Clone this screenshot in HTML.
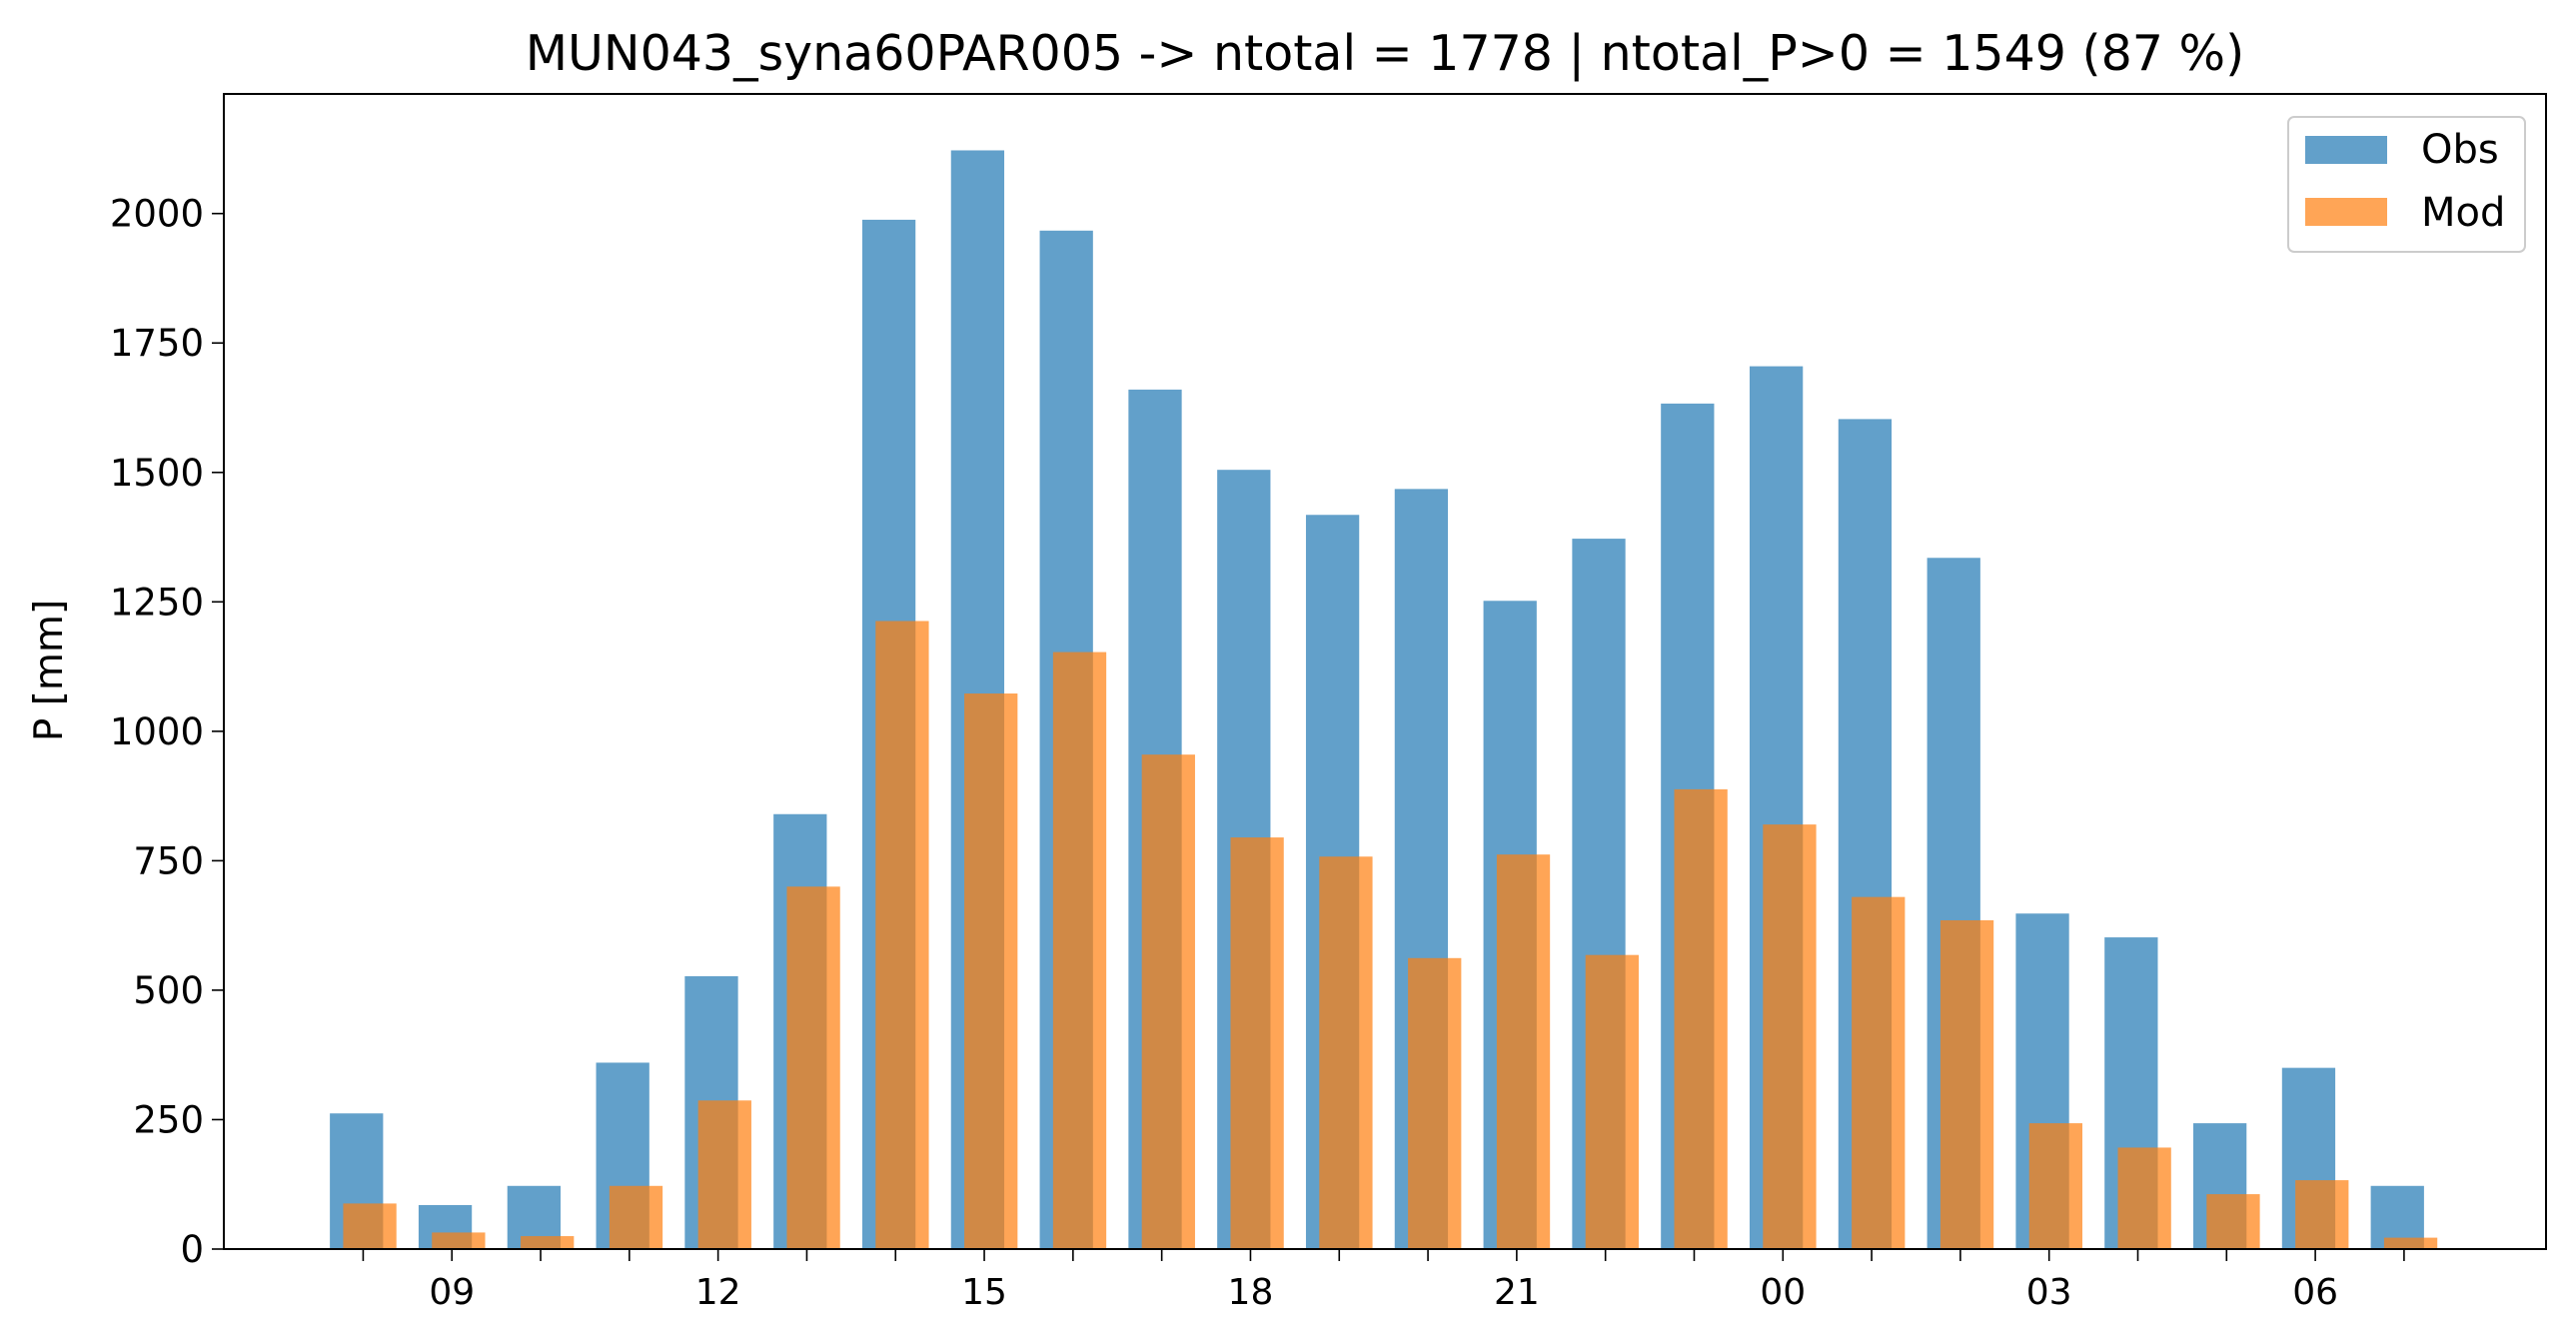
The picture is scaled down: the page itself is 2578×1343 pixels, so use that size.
<!DOCTYPE html>
<html><head><meta charset="utf-8"><style>body{margin:0;background:#fff}svg{display:block}text{font-family:"DejaVu Sans","Liberation Sans",sans-serif;fill:#000}</style></head>
<body>
<svg id="chart" width="2578" height="1343" viewBox="0 0 2578 1343" xmlns="http://www.w3.org/2000/svg">
<text x="1386" y="70" font-size="49" text-anchor="middle">MUN043_syna60PAR005 -&gt; ntotal = 1778 | ntotal_P&gt;0 = 1549 (87 %)</text>
<text transform="translate(62,671) rotate(-90)" font-size="39" text-anchor="middle">P [mm]</text>
<g id="plot"></g>
<rect x="224" y="94" width="2324" height="1156" fill="none" stroke="#000" stroke-width="2"/>
<g>
<rect x="2290" y="117" width="237" height="135" rx="6" fill="#fff" fill-opacity="0.8" stroke="#ccc" stroke-width="2"/>
<rect x="2307" y="136" width="82" height="28" fill="#1f77b4" fill-opacity="0.7"/>
<text x="2423" y="163" font-size="40">Obs</text>
<rect x="2307" y="198" width="82" height="28" fill="#ff7f0e" fill-opacity="0.7"/>
<text x="2423" y="226" font-size="40">Mod</text>
</g>
</svg>
<script>
const hours = ["08","09","10","11","12","13","14","15","16","17","18","19","20","21","22","23","00","01","02","03","04","05","06","07"];
const obsValues = [262,85,122,360,527,840,1988,2122,1967,1660,1505,1418,1468,1252,1372,1633,1705,1603,1335,648,602,243,350,122];
const modValues = [88,32,25,122,287,700,1213,1073,1153,955,795,758,562,762,568,888,820,680,635,243,196,106,133,22];
const yTicks = [0,250,500,750,1000,1250,1500,1750,2000];
const NS='http://www.w3.org/2000/svg';
const L=224,R=2548,T=94,B=1250;
const xMin=-1.57,xMax=24.6,yMax=2231;
const xs=i=>L+(i-xMin)/(xMax-xMin)*(R-L);
const ys=v=>B-v/yMax*(B-T);
const g=document.getElementById('plot');
function mk(tag,a){const e=document.createElementNS(NS,tag);for(const k in a)e.setAttribute(k,a[k]);g.appendChild(e);return e;}
const bw=0.6;
hours.forEach((h,i)=>{
  const o=mk('rect',{x:xs(i-0.075-bw/2),y:ys(obsValues[i]),width:xs(bw)-xs(0),height:ys(0)-ys(obsValues[i]),fill:'#1f77b4','fill-opacity':0.7});
  
  
});
hours.forEach((h,i)=>{
  const m=mk('rect',{x:xs(i+0.075-bw/2),y:ys(modValues[i]),width:xs(bw)-xs(0),height:ys(0)-ys(modValues[i]),fill:'#ff7f0e','fill-opacity':0.7});
  
  
});
hours.forEach((h,i)=>{
  const t=mk('line',{x1:xs(i),x2:xs(i),y1:B,y2:B+12,stroke:'#000','stroke-width':1.6});
  
  
  if(i%3===1){
    const tx=mk('text',{x:xs(i),y:B+55,'font-size':36,'text-anchor':'middle'});
    tx.textContent=h;
    
    
  }
});
yTicks.forEach(v=>{
  const t=mk('line',{x1:L-12,x2:L,y1:ys(v),y2:ys(v),stroke:'#000','stroke-width':1.6});
  
  
  const tx=mk('text',{x:L-20,y:ys(v)+13,'font-size':37,'text-anchor':'end'});
  tx.textContent=v;
  
  
});
</script>
</body></html>
